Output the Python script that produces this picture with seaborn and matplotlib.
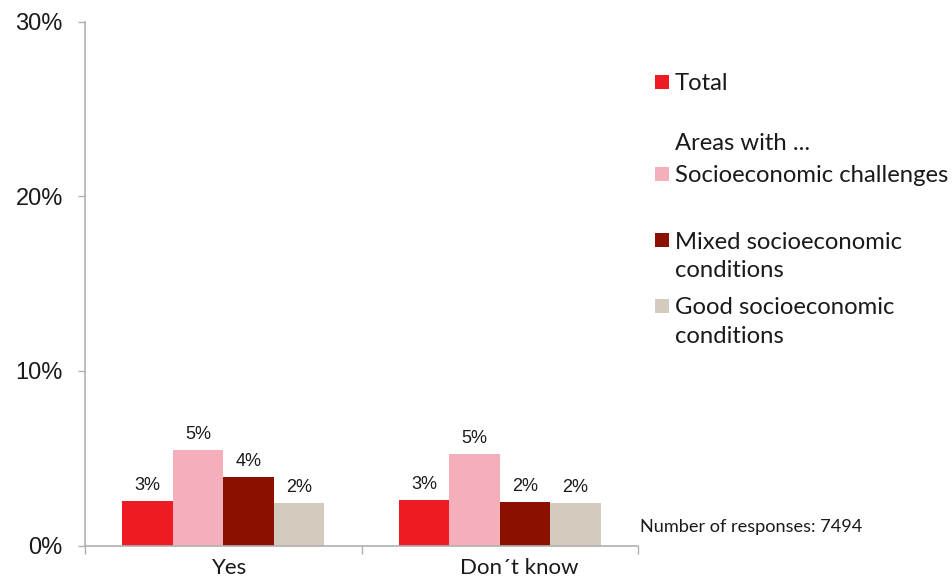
import matplotlib
matplotlib.use("Agg")
import matplotlib.pyplot as plt
import matplotlib.transforms as mtransforms
from matplotlib.patches import Rectangle
import seaborn as sns
import pandas as pd

categories = ["Yes", "Don´t know"]
groups = ["Total", "Socioeconomic challenges", "Mixed socioeconomic conditions", "Good socioeconomic conditions"]
values_yes = [2.56, 5.45, 3.94, 2.45]
values_dontknow = [2.6, 5.22, 2.49, 2.45]
colors = ["#ED1C24", "#F4AFBA", "#8B1000", "#D2CBBE"]
yticks = [0, 10, 20, 30]
ytick_labels = ["0%", "10%", "20%", "30%"]
note = "Number of responses: 7494"

rows = []
for cat, vals in zip(categories, [values_yes, values_dontknow]):
    for g, v in zip(groups, vals):
        rows.append({"cat": cat, "group": g, "val": v})
df = pd.DataFrame(rows)

sns.set_theme(style="white")
plt.rcParams["font.family"] = ["Liberation Sans", "DejaVu Sans"]

W, H = 953, 582
fig = plt.figure(figsize=(W / 100, H / 100), dpi=100)
ax = fig.add_axes([85 / W, 1 - 545.5 / H, (638 - 85) / W, (545.5 - 21.5) / H])

sns.barplot(data=df, x="cat", y="val", hue="group", hue_order=groups, order=categories,
            palette=colors, width=0.73, dodge=True, saturation=1, errorbar=None,
            legend=False, ax=ax, linewidth=0)

for cont in ax.containers:
    ax.bar_label(cont, labels=[f"{round(b.get_height())}%" for b in cont],
                 padding=5, fontsize=13, color="#1a1a1a", family=["Liberation Sans"])

ax.set_xlim(-0.5, 1.5)
ax.set_ylim(0, 30)
ax.set_yticks(yticks)
ax.set_yticklabels(ytick_labels, fontsize=17, color="#1a1a1a")
ax.set_xlabel("")
ax.set_ylabel("")
ax.set_xticks([0, 1])
ax.set_xticklabels(categories, fontsize=16, family=["Lato"], color="#1a1a1a")
ax.set_xticks([-0.5, 0.5, 1.5], minor=True)
ax.tick_params(axis="x", which="major", length=0, pad=9)
ax.tick_params(axis="x", which="minor", length=6, color="#b0b0b0", width=1, direction="out", bottom=True)
ax.tick_params(axis="y", length=5, color="#b0b0b0", width=1, direction="out", left=True, pad=11)
for s in ["top", "right"]:
    ax.spines[s].set_visible(False)
for s in ["left", "bottom"]:
    ax.spines[s].set_color("#b0b0b0")
    ax.spines[s].set_linewidth(1.2)

# the reference places category labels slightly right of centre
for lbl, dx in zip(ax.get_xticklabels(), [6.5, 19]):
    lbl.set_transform(lbl.get_transform() + mtransforms.ScaledTranslation(dx / 100, 0, fig.dpi_scale_trans))

def fx(x):
    return x / W

def fy(y):
    return 1 - y / H

legend_items = [
    (82, colors[0], ["Total"]),
    (174, colors[1], ["Socioeconomic challenges"]),
    (240, colors[2], ["Mixed socioeconomic", "conditions"]),
    (306, colors[3], ["Good socioeconomic", "conditions"]),
]
for yc, col, lines in legend_items:
    fig.add_artist(Rectangle((fx(655), fy(yc + 7)), 14 / W, 14 / H, transform=fig.transFigure,
                             facecolor=col, edgecolor="none"))
    for i, line in enumerate(lines):
        fig.text(fx(675), fy(yc + 2 + i * 28.5), line, fontsize=17.2, family=["Lato"],
                 va="center", ha="left", color="#1a1a1a")
fig.text(fx(675), fy(143), "Areas with ...", fontsize=17.2, family=["Lato"],
         va="center", ha="left", color="#1a1a1a")
fig.text(fx(640), fy(527), note, fontsize=13.1, family=["Lato"],
         va="center", ha="left", color="#1a1a1a")

fig.savefig("out.png", dpi=100)
